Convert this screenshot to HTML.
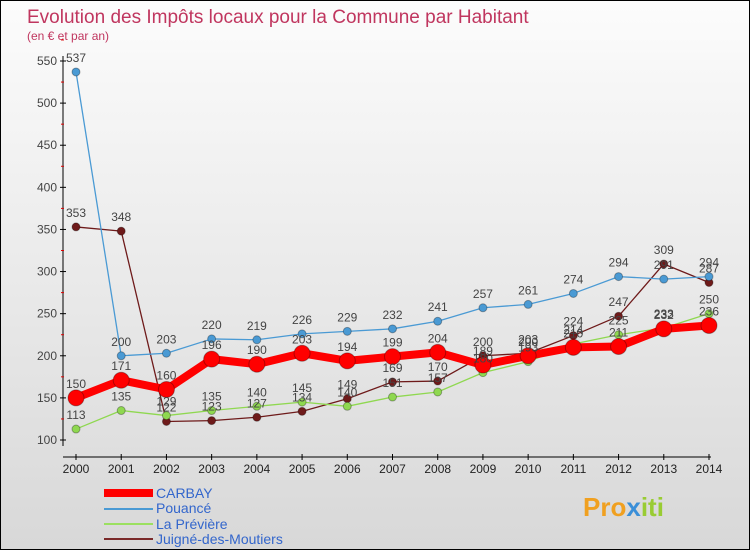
<!DOCTYPE html>
<html><head><meta charset="utf-8"><style>
body{margin:0;width:750px;height:550px;overflow:hidden;font-family:"Liberation Sans",sans-serif}
#wrap{position:relative;width:748px;height:548px;border:1px solid #000;background:linear-gradient(#fcfcfc,#d8d8d8)}
</style></head><body>
<div id="wrap">
<svg id="svg" width="748" height="548" xmlns="http://www.w3.org/2000/svg">
<text x="26" y="22" font-size="19" fill="#c0365f">Evolution des Impôts locaux pour la Commune par Habitant</text>
<text x="26" y="39" font-size="12" fill="#c0365f">(en € et par an)</text>
<g id="axes"></g><g id="series"></g><g id="labels"></g>
<g>
<line x1="103" y1="492" x2="152" y2="492" stroke="#f00" stroke-width="8"/>
<text x="155" y="497" font-size="14" fill="#3366cc">CARBAY</text>
<line x1="103" y1="508" x2="152" y2="508" stroke="#4a9ad4" stroke-width="2"/>
<text x="155" y="512" font-size="14" fill="#3366cc">Pouancé</text>
<line x1="103" y1="523" x2="152" y2="523" stroke="#9be060" stroke-width="2"/>
<text x="155" y="528" font-size="14" fill="#3366cc">La Prévière</text>
<line x1="103" y1="538" x2="152" y2="538" stroke="#7a2a2a" stroke-width="2"/>
<text x="155" y="543" font-size="14" fill="#3366cc">Juigné-des-Moutiers</text>
</g>
<text x="582" y="515" font-size="26" font-weight="bold" fill="#f0a020">Pro<tspan fill="#3a8fd8">x</tspan><tspan fill="#9c3">iti</tspan></text>
</svg></div>
<script>
const years=["2000","2001","2002","2003","2004","2005","2006","2007","2008","2009","2010","2011","2012","2013","2014"];
const yTicks=[100,150,200,250,300,350,400,450,500,550];
const carbay=[150,171,160,196,190,203,194,199,204,189,200,210,211,232,236];
const pouance=[537,200,203,220,219,226,229,232,241,257,261,274,294,291,294];
const previere=[113,135,129,135,140,145,140,151,157,180,193,214,225,233,250];
const juigne=[353,348,122,123,127,134,149,169,170,200,203,224,247,309,287];
const NS="http://www.w3.org/2000/svg";
const X=i=>75+i*(633/14), Y=v=>439-(v-100)*379/450;
function mk(t,a,p){const e=document.createElementNS(NS,t);for(const k in a)e.setAttribute(k,a[k]);p.appendChild(e);return e;}
const ax=document.getElementById('axes');
let l=mk('line',{x1:62,y1:55,x2:62,y2:445,stroke:'#000'},ax);


l=mk('line',{x1:62,y1:456,x2:710,y2:456,stroke:'#000'},ax);


yTicks.forEach(v=>{mk('line',{x1:59,y1:Y(v),x2:65,y2:Y(v),stroke:'#000'},ax);
mk('line',{x1:60,y1:Y(v+25),x2:63,y2:Y(v+25),stroke:'#d00'},ax);
const t=mk('text',{x:56,y:Y(v)+4,'font-size':12,'text-anchor':'end',fill:'#444'},ax);t.textContent=v;

});
years.forEach((y,i)=>{mk('line',{x1:X(i),y1:453,x2:X(i),y2:459,stroke:'#000'},ax);
const t=mk('text',{x:X(i),y:472,'font-size':12,'text-anchor':'middle',fill:'#222'},ax);t.textContent=y;

});
const sg=document.getElementById('series'),lg=document.getElementById('labels');
function draw(d,col,w,r,name,lab){
const p=mk('polyline',{points:d.map((v,i)=>X(i)+','+Y(v)).join(' '),fill:'none',stroke:col,'stroke-width':w,'stroke-linejoin':'round'},sg);


d.forEach((v,i)=>{const c=mk('circle',{cx:X(i),cy:Y(v),r:r,fill:col,stroke:'rgba(0,0,0,0.3)'},sg);


const t=mk('text',{x:X(i),y:Y(v)-10,'font-size':12,'text-anchor':'middle',fill:'#444'},lg);t.textContent=v;

});}
draw(juigne,'#6e1a1a',1.3,4,'juigne');
draw(previere,'#8fd850',1.3,4,'previere');
draw(pouance,'#4a9ad4',1.3,4,'pouance');
draw(carbay,'#f00',8,8,'carbay');
</script></body></html>
